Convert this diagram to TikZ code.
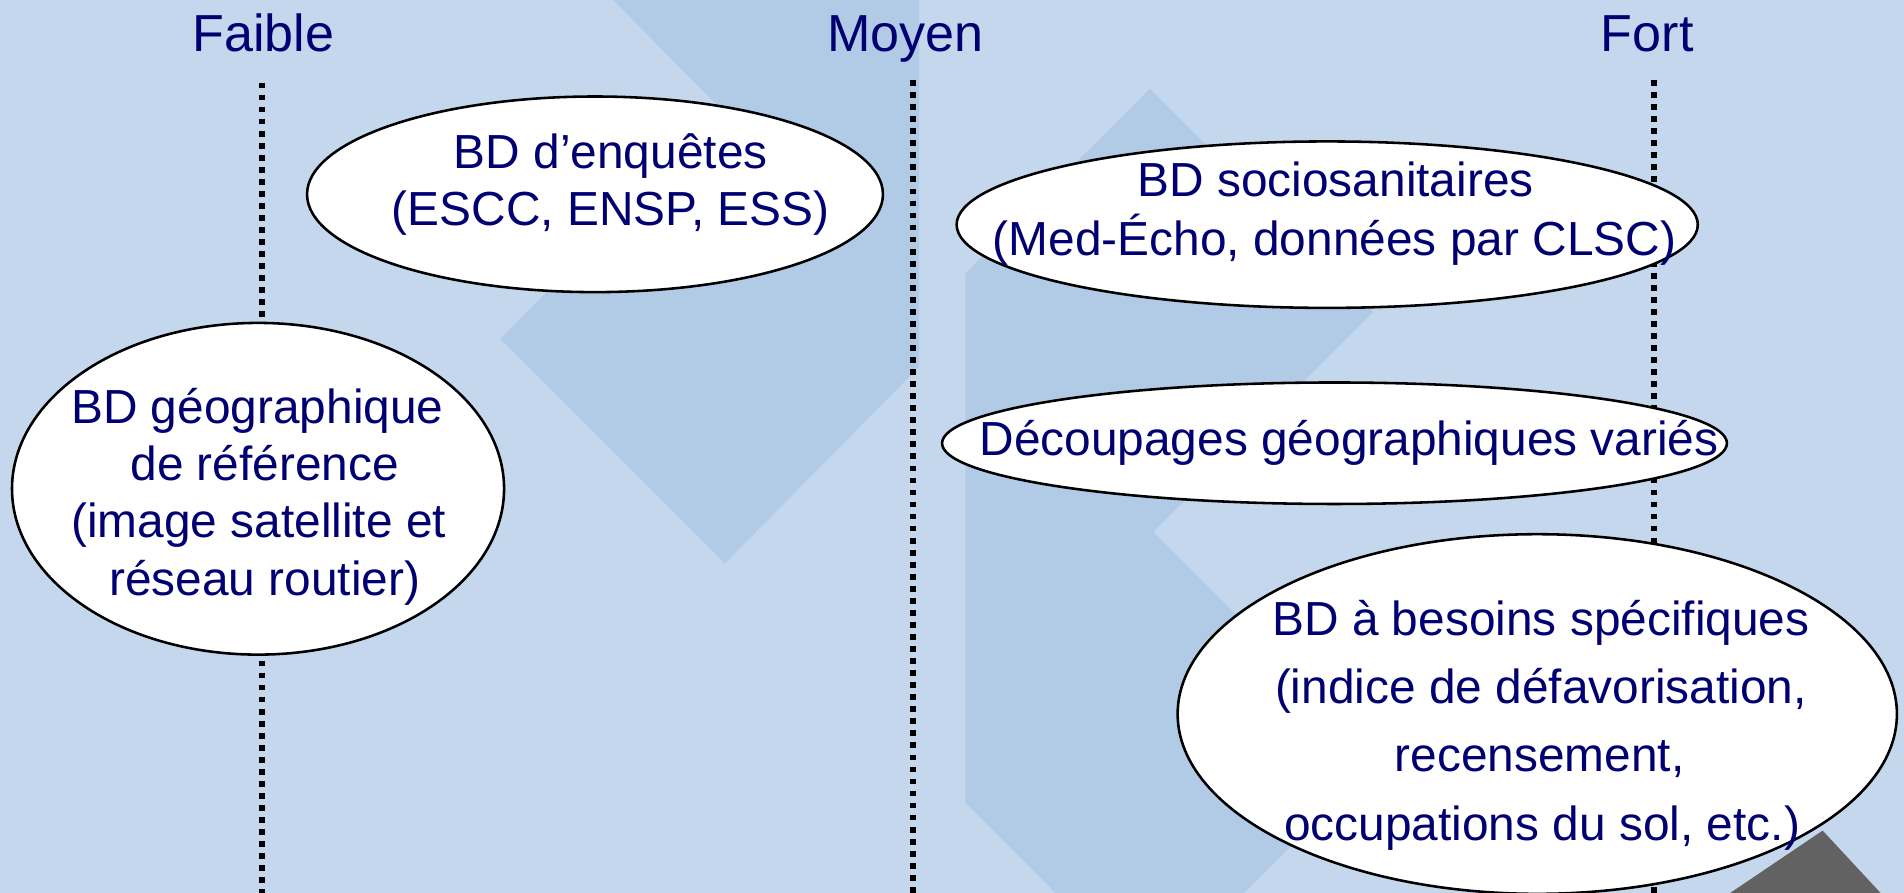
\documentclass[tikz,border=0pt]{standalone}
\usepackage{fontspec}
\setmainfont{Liberation Sans}
\usetikzlibrary{shapes.geometric}
\definecolor{bglight}{RGB}{197,215,237}
\definecolor{bgdark}{RGB}{177,203,230}
\definecolor{logogray}{RGB}{98,98,98}
\definecolor{navytext}{RGB}{0,0,115}
\begin{document}
\begin{tikzpicture}[x=0.01cm,y=-0.01cm,
  lab/.style={text=navytext, font=\fontsize{11.2pt}{13.5pt}\selectfont, anchor=base, inner sep=0pt},
  ttl/.style={text=navytext, font=\fontsize{12.2pt}{14pt}\selectfont, anchor=base, inner sep=0pt},
  oval/.style={ellipse, draw=black, fill=white, line width=0.6pt, inner sep=0pt},
  axisline/.style={line width=1.35pt, dash pattern=on 1.35pt off 1.47pt}]
\useasboundingbox (0,0) rectangle (1568,735);
\clip (0,0) rectangle (1568,735);
% background
\fill[bglight] (0,0) rectangle (1568,735);
\fill[bgdark] (505,0) -- (757,0) -- (757,302) -- (597,464) -- (412,279) -- (597,93) -- cycle;
\fill[bgdark] (795,225) -- (947,73) -- (1131,257) -- (950,438) -- (1136,624) -- (947,813) -- (795,661) -- cycle;
\fill[logogray] (1418,740) -- (1501,684) -- (1553,740) -- cycle;
% axis lines
\coordinate (ft) at (216,68);  \coordinate (fb) at (216,740);
\coordinate (mt) at (752,66);  \coordinate (mb) at (752,740);
\coordinate (rt) at (1362,66); \coordinate (rb) at (1362,740);
\draw[axisline] (ft) -- (fb);
\draw[axisline] (mt) -- (mb);
\draw[axisline] (rt) -- (rb);
% titles
\node[ttl] (faible) at (217,42.6) {Faible};
\node[ttl] (moyen) at (745.5,42.6) {Moyen};
\node[ttl] (fort) at (1356.5,42.6) {Fort};
% ellipses
\node[oval, minimum width=4.74cm, minimum height=1.61cm] (enq) at (490,160) {};
\node[oval, minimum width=4.05cm, minimum height=2.73cm] (geo) at (212.5,402.5) {};
\node[oval, minimum width=6.10cm, minimum height=1.37cm] (soc) at (1093,185) {};
\node[oval, minimum width=6.46cm, minimum height=1.00cm] (dec) at (1099,365) {};
\node[oval, minimum width=5.92cm, minimum height=2.96cm] (bes) at (1266,588) {};
% texts
\node[lab] (enq1) at (503,139) {BD d’enquêtes};
\node[lab] (enq2) at (503,186) {(ESCC, ENSP, ESS)};
\node[lab] (geo1) at (212,349) {BD géographique};
\node[lab] (geo2) at (218,396) {de référence};
\node[lab] (geo3) at (213,443) {(image satellite et};
\node[lab] (geo4) at (218,490) {réseau routier)};
\node[lab] (soc1) at (1100,162) {BD sociosanitaires};
\node[lab] (soc2) at (1099,210) {(Med-Écho, données par CLSC)};
\node[lab] (dec1) at (1111,374.7) {Découpages géographiques variés};
\node[lab] (bes1) at (1269,523) {BD à besoins spécifiques};
\node[lab] (bes2) at (1269,579) {(indice de défavorisation,};
\node[lab] (bes3) at (1268,635.5) {recensement,};
\node[lab] (bes4) at (1270,692) {occupations du sol, etc.)};
\end{tikzpicture}
\end{document}
